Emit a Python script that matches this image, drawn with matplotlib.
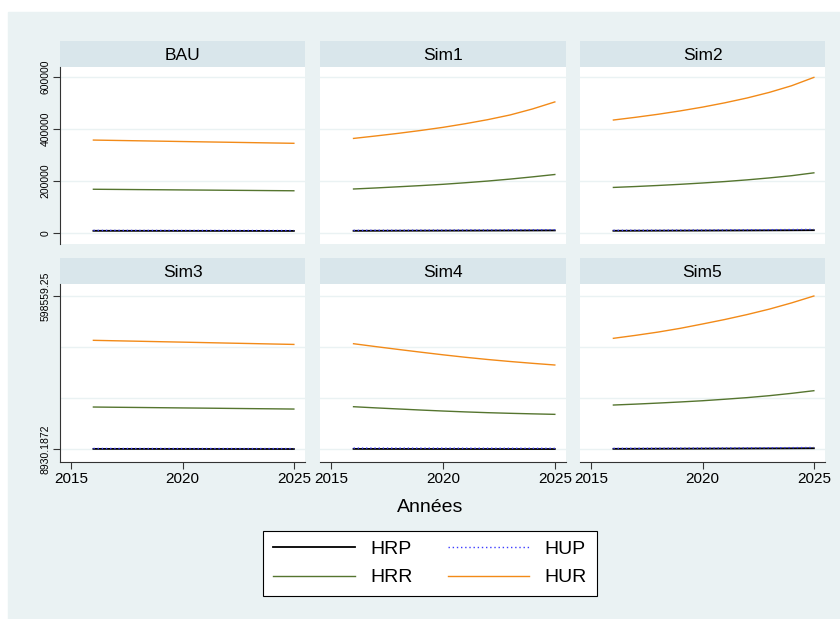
import matplotlib
matplotlib.use("Agg")
import matplotlib.pyplot as plt
from matplotlib.lines import Line2D

plt.rcParams['font.family'] = ['Liberation Sans', 'DejaVu Sans']

years = [2016, 2017, 2018, 2019, 2020, 2021, 2022, 2023, 2024, 2025]
panels = ["BAU", "Sim1", "Sim2", "Sim3", "Sim4", "Sim5"]

hrp = {
    "BAU":  [9600, 9550, 9500, 9450, 9400, 9350, 9300, 9250, 9200, 9150],
    "Sim1": [9600, 9750, 9900, 10050, 10200, 10350, 10500, 10700, 10900, 11100],
    "Sim2": [9700, 9900, 10100, 10300, 10500, 10750, 11000, 11300, 11600, 12000],
    "Sim3": [9500, 9450, 9400, 9350, 9300, 9250, 9200, 9150, 9100, 9050],
    "Sim4": [9500, 9400, 9300, 9250, 9200, 9150, 9100, 9050, 9000, 8930.1872],
    "Sim5": [9700, 9900, 10100, 10300, 10500, 10750, 11000, 11300, 11600, 12000],
}
hup = {
    "BAU":  [11200, 11150, 11100, 11050, 11000, 10950, 10900, 10850, 10800, 10750],
    "Sim1": [11300, 11550, 11800, 12050, 12300, 12600, 12900, 13200, 13500, 13900],
    "Sim2": [11400, 11700, 12000, 12300, 12650, 13000, 13400, 13850, 14300, 14900],
    "Sim3": [11100, 11050, 11000, 10950, 10900, 10850, 10800, 10750, 10700, 10650],
    "Sim4": [12500, 12400, 12300, 12200, 12100, 12000, 11900, 11800, 11700, 11600],
    "Sim5": [11400, 11700, 12000, 12300, 12650, 13000, 13400, 13850, 14300, 14900],
}
hrr = {
    "BAU":  [169000, 168400, 167700, 167100, 166400, 165800, 165100, 164500, 163800, 163200],
    "Sim1": [170000, 174000, 178500, 183000, 188000, 194000, 200500, 208000, 216500, 225600],
    "Sim2": [176000, 179500, 183500, 188000, 193000, 198500, 205000, 212500, 221000, 232000],
    "Sim3": [170800, 169900, 169100, 168200, 167300, 166500, 165600, 164700, 163900, 163000],
    "Sim4": [172000, 167500, 163300, 159200, 155400, 152000, 149000, 146600, 144500, 142600],
    "Sim5": [178500, 182000, 186000, 190300, 195000, 200800, 207000, 214500, 223500, 233700],
}
hur = {
    "BAU":  [357700, 356300, 354900, 353500, 352100, 350700, 349400, 348000, 346600, 345300],
    "Sim1": [364000, 373500, 383500, 394500, 406500, 420500, 436000, 454000, 477000, 504000],
    "Sim2": [434600, 445100, 456600, 469600, 484100, 500600, 519100, 540600, 566100, 598100],
    "Sim3": [427800, 426000, 424300, 422500, 420800, 419000, 417200, 415500, 413700, 412000],
    "Sim4": [414700, 403500, 392700, 382200, 372000, 362500, 353900, 346200, 339200, 332700],
    "Sim5": [435500, 447000, 459500, 474000, 490700, 508000, 527000, 548000, 572000, 598559.25],
}

top_ticks = [0, 200000, 400000, 600000]
bot_min, bot_max = 8930.1872, 598559.25
x_ticks = [2015, 2020, 2025]

BG = "#eaf2f3"
STRIP = "#d9e6eb"
GREEN = "#55752f"
ORANGE = "#f28a18"
BLUE = "#3b3bff"

W, H = 840, 619
fig = plt.figure(figsize=(8.4, 6.19), dpi=100)
fig.patch.set_facecolor("white")
# stata graph region
fig.patches.append(plt.Rectangle((8 / W, 0), 1 - 8 / W, 1 - 12 / H,
                                 transform=fig.transFigure, color=BG, zorder=-10))

def px(x0, y0, x1, y1):
    return [x0 / W, 1 - y1 / H, (x1 - x0) / W, (y1 - y0) / H]

cols = [(60, 305), (320, 566), (580, 825)]
rows = [(41, 67, 244), (258, 284, 462)]

for i, name in enumerate(panels):
    r, c = divmod(i, 3)
    x0, x1 = cols[c]
    s0, p0, p1 = rows[r]

    st = fig.add_axes(px(x0, s0, x1, p0))
    st.set_facecolor(STRIP)
    st.set_xticks([]); st.set_yticks([])
    for sp in st.spines.values():
        sp.set_visible(False)
    st.text(0.5, 0.45, name, ha="center", va="center", fontsize=12.5, transform=st.transAxes)

    ax = fig.add_axes(px(x0, p0, x1, p1))
    ax.set_facecolor("white")
    for sp in ax.spines.values():
        sp.set_visible(False)

    ax.plot(years, hrp[name], color="black", lw=1.3, zorder=3)
    ax.plot(years, hup[name], color=BLUE, lw=1.0, ls=(0, (1, 2)), zorder=4)
    ax.plot(years, hrr[name], color=GREEN, lw=1.0, zorder=3)
    ax.plot(years, hur[name], color=ORANGE, lw=1.0, zorder=3)

    ax.set_xlim(2014.5, 2025.5)
    if r == 0:
        ax.set_ylim(-41000, 638000)
        grid = top_ticks
        labels = [str(t) for t in top_ticks]
    else:
        ax.set_ylim(-41000, 644800)
        step = (bot_max - bot_min) / 3
        grid = [bot_min, bot_min + step, bot_min + 2 * step, bot_max]
        labels = ["8930.1872", "", "", "598559.25"]
    for g in grid:
        ax.axhline(g, color=BG, lw=1.0, zorder=1)

    ax.set_yticks(grid)
    if c == 0:
        ax.spines["left"].set_visible(True)
        ax.spines["left"].set_color("#333333")
        ax.set_yticklabels(labels, rotation=90, va="center", fontsize=7.5)
        ax.tick_params(axis="y", length=5, width=0.8, color="#333333", pad=2)
        if r == 1:
            for t, lab in zip(ax.get_yticklines()[::2], labels):
                if lab == "":
                    t.set_visible(False)
    else:
        ax.tick_params(axis="y", left=False, labelleft=False)

    ax.set_xticks(x_ticks)
    if r == 1:
        ax.spines["bottom"].set_visible(True)
        ax.spines["bottom"].set_color("#333333")
        ax.tick_params(axis="x", length=5, width=0.8, color="#333333", labelsize=11, pad=2)
    else:
        ax.tick_params(axis="x", bottom=False, labelbottom=False)

fig.text(430 / W, 1 - 508 / H, "Années", ha="center", va="center", fontsize=14)

handles = [
    Line2D([], [], color="black", lw=1.3),
    Line2D([], [], color=GREEN, lw=1.0),
    Line2D([], [], color=BLUE, lw=1.0, ls=(0, (1, 2))),
    Line2D([], [], color=ORANGE, lw=1.0),
]
leg = fig.legend(handles, ["HRP", "HRR", "HUP", "HUR"], ncol=2,
                 loc="center", bbox_to_anchor=(430 / W, 1 - 563.5 / H),
                 fontsize=14, frameon=True, fancybox=False, framealpha=1,
                 edgecolor="black", handlelength=4.2, handletextpad=0.8,
                 columnspacing=1.8, labelspacing=0.55, borderpad=0.5)
leg.get_frame().set_linewidth(0.8)

fig.savefig("out.png", dpi=100, facecolor="white")
